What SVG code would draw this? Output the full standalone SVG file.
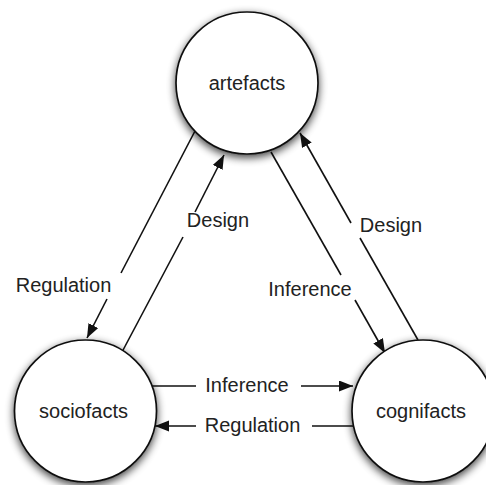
<svg xmlns="http://www.w3.org/2000/svg" width="486" height="485" viewBox="0 0 486 485">
  <style>
    .node circle { fill: #ffffff; stroke: #111111; stroke-width: 1.7; filter: url(#soft-shadow); }
    .node text { font-family: "Liberation Sans", Arial, sans-serif; font-size: 20px; fill: #222222; text-anchor: middle; }
    .edge { fill: none; stroke: #111111; stroke-width: 1.6; }
    .label { font-family: "Liberation Sans", Arial, sans-serif; font-size: 20px; fill: #222222; text-anchor: middle; }
  </style>
  <defs>
    <filter id="soft-shadow" x="-30%" y="-30%" width="160%" height="170%">
      <feGaussianBlur in="SourceAlpha" stdDeviation="4.5"/>
      <feOffset dx="0" dy="3" result="blur"/>
      <feComponentTransfer>
        <feFuncA type="linear" slope="0.75"/>
      </feComponentTransfer>
      <feMerge>
        <feMergeNode/>
        <feMergeNode in="SourceGraphic"/>
      </feMerge>
    </filter>
    <marker id="arrow" markerUnits="userSpaceOnUse" markerWidth="15" markerHeight="12" refX="14" refY="5.5" orient="auto">
      <path d="M0,0 L14,5.5 L0,11 z" fill="#111111"/>
    </marker>
  </defs>

  <rect width="486" height="485" fill="#ffffff"/>

  <!-- connectors: each split around its label -->
  <g id="connectors">
    <!-- artefacts to sociofacts: Regulation -->
    <line class="edge" x1="195" y1="131" x2="121" y2="273"/>
    <line class="edge" x1="107" y1="299" x2="87" y2="338" marker-end="url(#arrow)"/>
    <!-- sociofacts to artefacts: Design -->
    <line class="edge" x1="122" y1="352" x2="183" y2="237"/>
    <line class="edge" x1="195" y1="212" x2="224" y2="155" marker-end="url(#arrow)"/>
    <!-- artefacts to cognifacts: Inference -->
    <line class="edge" x1="271" y1="152" x2="341" y2="275"/>
    <line class="edge" x1="355" y1="300" x2="385" y2="353" marker-end="url(#arrow)"/>
    <!-- cognifacts to artefacts: Design -->
    <line class="edge" x1="418" y1="340" x2="360" y2="238"/>
    <line class="edge" x1="351" y1="223" x2="300" y2="133" marker-end="url(#arrow)"/>
    <!-- sociofacts to cognifacts: Inference -->
    <line class="edge" x1="152" y1="386" x2="196" y2="386"/>
    <line class="edge" x1="301" y1="386" x2="353" y2="386" marker-end="url(#arrow)"/>
    <!-- cognifacts to sociofacts: Regulation -->
    <line class="edge" x1="354" y1="426" x2="312" y2="426"/>
    <line class="edge" x1="196" y1="426" x2="155" y2="426" marker-end="url(#arrow)"/>

    <text class="label" x="63.5" y="292">Regulation</text>
    <text class="label" x="218" y="227">Design</text>
    <text class="label" x="310" y="296">Inference</text>
    <text class="label" x="391" y="232">Design</text>
    <text class="label" x="247" y="392">Inference</text>
    <text class="label" x="252.5" y="432">Regulation</text>
  </g>

  <g id="artefacts" class="node">
    <circle cx="247" cy="83" r="71"/>
    <text x="247" y="90">artefacts</text>
  </g>
  <g id="sociofacts" class="node">
    <circle cx="85.5" cy="411" r="71"/>
    <text x="83.5" y="418">sociofacts</text>
  </g>
  <g id="cognifacts" class="node">
    <circle cx="423" cy="411" r="71"/>
    <text x="421" y="418">cognifacts</text>
  </g>
</svg>
